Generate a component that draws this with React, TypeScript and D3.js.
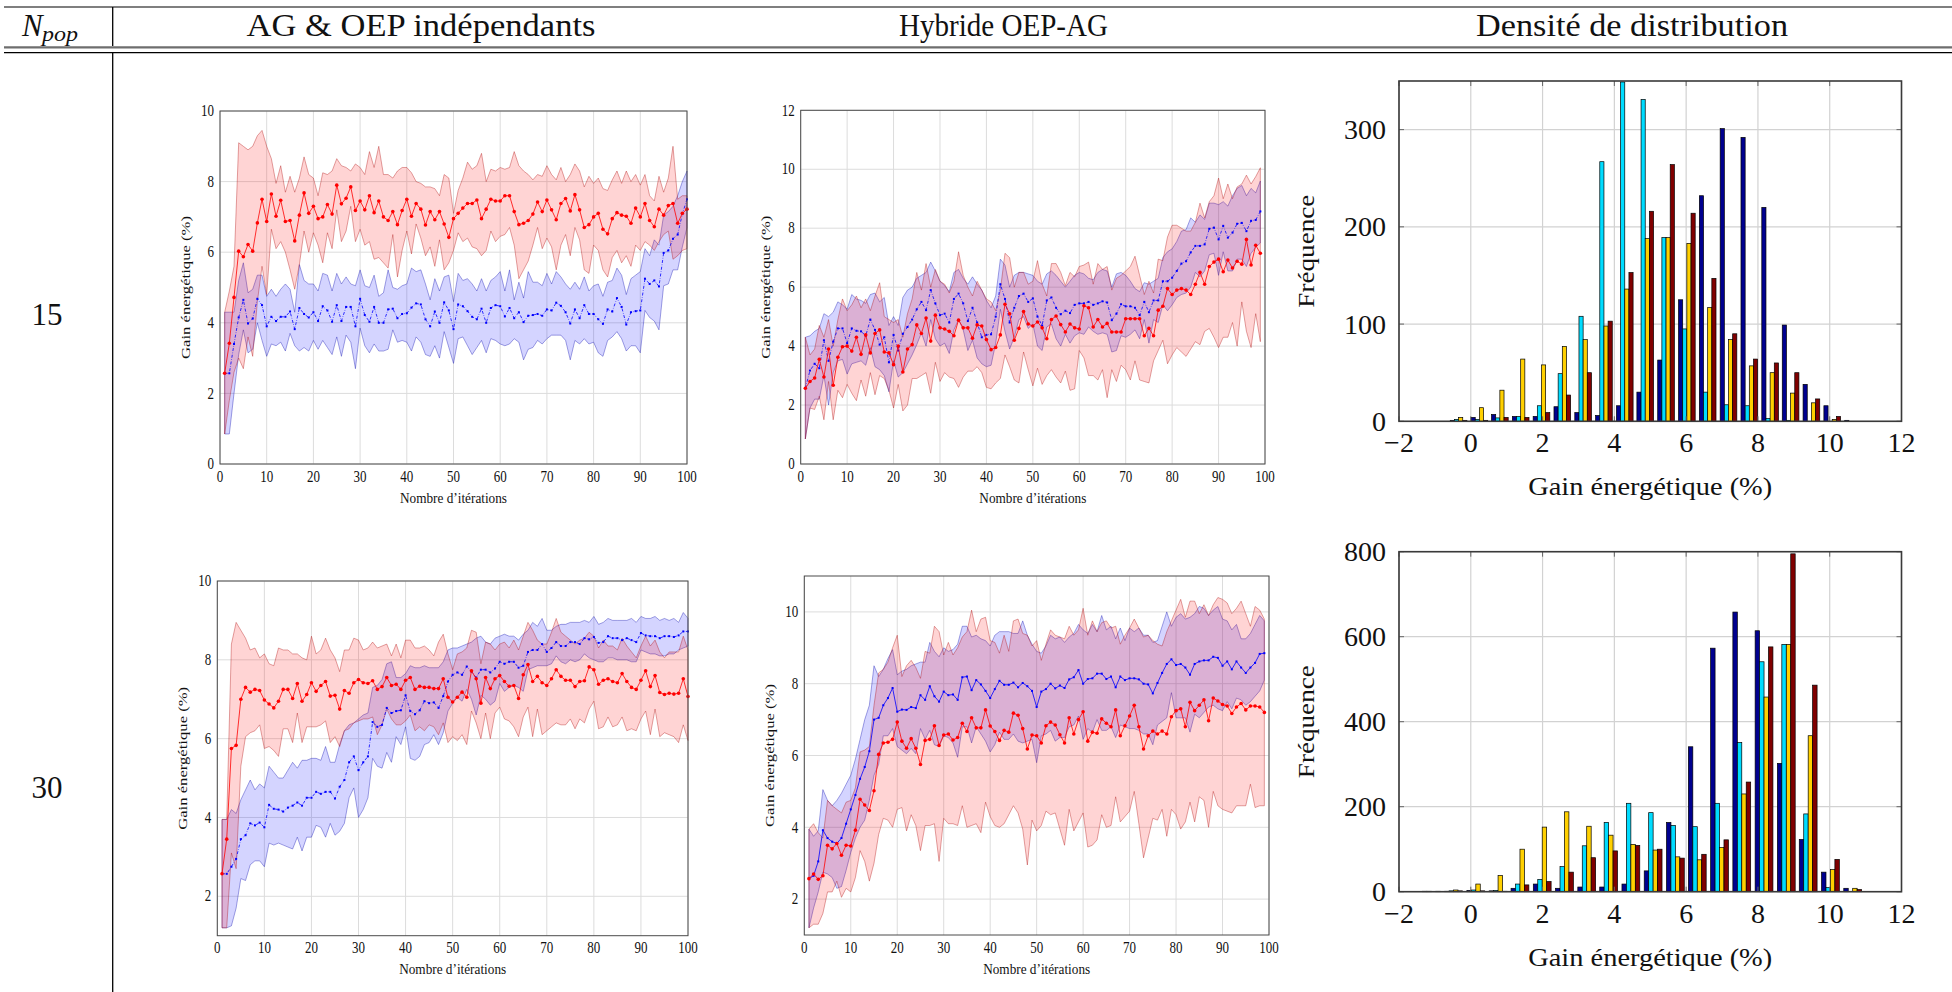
import React from 'react';
import * as d3 from 'd3';

const FONT = '"Liberation Serif", "Times New Roman", serif';

// ---------------- Table texts ----------------
const headerTitles = ['AG & OEP indépendants', 'Hybride OEP-AG', 'Densité de distribution'];
const populationSizes = ['15', '30'];

// ---------------- Top-left: AG & OEP indépendants, N=15 ----------------
const tlRedMean = [2.57,3.42,4.72,6.03,5.87,6.22,6.03,6.83,7.5,6.87,7.65,7.02,7.47,6.87,6.9,6.32,7.05,7.68,7.1,7.3,6.95,7.0,7.35,7.08,7.9,7.37,7.53,7.85,7.18,7.45,7.2,7.6,7.12,7.45,7.0,6.9,7.15,6.78,7.18,7.5,7.02,7.38,7.22,6.77,7.15,6.92,7.15,6.8,6.42,6.95,7.1,7.25,7.38,7.38,7.48,6.95,7.22,7.5,7.45,7.45,7.6,7.6,7.15,6.78,6.82,6.9,7.08,7.42,7.15,7.48,7.2,6.92,7.38,7.52,7.17,7.63,7.2,6.7,6.78,7.0,7.1,6.65,6.52,6.95,7.12,7.05,7.02,6.82,7.25,7.0,7.38,6.9,6.72,7.22,7.05,7.32,7.38,6.82,7.1,7.22];
const tlRedUp = [4.3,4.9,5.6,9.1,9.0,8.9,9.0,9.3,9.45,9.0,8.65,7.95,8.45,7.7,8.15,7.7,8.1,8.7,8.2,8.1,7.6,8.25,8.2,8.3,8.65,8.45,8.4,8.3,8.5,8.4,8.2,8.85,8.4,9.0,8.2,8.2,8.1,8.3,8.4,8.4,8.25,8.0,7.95,7.85,7.85,7.8,7.6,8.2,8.1,7.1,7.75,8.1,8.55,8.35,8.45,8.8,8.0,8.35,8.3,8.4,8.35,8.4,8.85,8.45,8.3,8.2,8.05,8.2,8.15,8.45,8.2,8.05,8.4,8.0,8.2,8.5,8.3,7.85,8.15,7.95,8.1,7.8,7.75,8.05,8.3,7.95,8.3,8.0,8.2,7.9,8.2,7.6,7.45,8.15,7.7,8.1,9.0,7.5,7.6,7.6];
const tlRedLo = [0.85,1.8,2.6,3.0,2.7,3.6,3.05,4.6,5.6,4.8,6.65,6.1,6.3,6.0,5.5,4.95,5.65,6.6,6.0,6.55,6.2,5.7,6.55,6.1,7.2,6.3,6.6,7.3,6.3,6.65,6.2,6.3,5.8,5.85,5.7,5.55,6.5,5.3,6.05,6.6,5.95,6.8,6.4,5.9,6.15,5.6,6.35,5.5,5.7,6.05,6.55,6.3,6.4,6.15,6.1,5.9,6.05,6.6,6.3,6.45,6.5,6.7,6.2,5.25,5.5,5.75,6.2,6.7,6.1,6.4,6.15,5.5,6.2,6.5,5.9,6.7,6.35,5.5,5.4,6.2,6.05,5.5,5.3,5.85,6.05,5.7,5.9,5.6,6.2,6.05,6.3,6.2,6.05,6.3,6.5,6.6,5.8,5.9,6.05,6.1];
const tlBlueMean = [2.57,2.57,3.4,4.15,4.65,3.98,4.12,4.68,4.5,3.9,4.17,4.05,4.17,4.17,4.32,3.82,4.42,4.25,4.15,4.3,4.05,4.47,4.35,4.03,4.5,4.05,4.45,4.45,3.9,4.68,4.22,4.03,4.45,4.0,4.0,4.38,4.4,4.13,4.25,4.27,4.43,4.55,4.52,4.1,3.9,4.32,4.0,4.58,4.35,3.82,4.52,4.47,4.33,4.17,4.1,4.4,4.0,4.42,4.5,4.47,4.18,4.42,4.13,4.3,4.02,4.2,4.22,4.25,4.2,4.38,4.35,4.57,4.48,4.3,3.98,4.38,4.13,4.5,4.25,4.25,4.1,3.97,4.38,4.32,4.7,4.45,3.95,4.3,4.33,4.35,5.25,5.1,5.2,5.03,5.98,6.05,6.38,6.5,7.08,7.5];
const tlBlueUp = [4.3,4.3,4.3,5.2,5.7,4.85,4.95,5.35,5.35,4.75,4.95,4.75,4.95,5.1,4.95,4.3,5.65,5.2,5.1,5.1,4.9,5.4,5.35,4.9,5.4,5.1,5.3,5.1,5.05,5.5,5.05,5.0,5.35,4.75,4.85,5.5,5.0,4.95,5.05,5.1,5.55,5.45,5.5,5.1,4.65,5.25,4.9,5.3,5.35,4.6,5.4,5.2,5.25,5.1,4.9,5.25,4.9,5.2,5.3,5.45,4.9,5.5,4.65,5.15,4.7,5.45,5.15,5.15,5.05,5.4,5.1,5.45,5.3,5.1,4.95,5.15,4.95,5.3,4.9,5.05,5.1,4.75,5.15,5.2,5.55,5.35,4.8,5.25,5.35,5.45,6.1,5.9,6.35,6.2,7.05,7.15,7.3,7.6,8.0,8.3];
const tlBlueLo = [0.85,0.85,2.0,3.1,3.8,3.15,3.25,4.0,3.5,3.05,3.4,3.35,3.45,3.2,3.7,3.35,3.2,3.3,3.2,3.5,3.25,3.5,3.3,3.1,3.6,3.05,3.65,3.45,2.7,3.85,3.35,3.15,3.4,3.2,3.2,3.25,3.8,3.45,3.5,3.45,3.2,3.6,3.45,3.1,3.05,3.35,3.0,3.75,3.3,2.85,3.55,3.6,3.35,3.1,3.3,3.5,3.15,3.55,3.5,3.4,3.35,3.4,3.55,3.45,2.95,3.25,3.3,3.5,3.4,3.55,3.65,3.65,3.65,3.5,2.95,3.5,3.4,3.55,3.4,3.45,3.15,3.05,3.5,3.6,3.75,3.55,3.2,3.35,3.35,3.15,4.35,4.15,4.05,3.8,5.05,5.1,5.5,5.5,6.15,6.7];

// ---------------- Top-middle: Hybride OEP-AG, N=15 ----------------
const tmRedMean = [2.57,2.8,2.92,3.55,2.95,3.9,2.67,3.62,3.98,4.0,3.83,4.3,3.72,4.38,3.77,4.43,4.55,3.8,3.77,3.37,4.0,3.12,3.9,4.05,4.72,4.43,4.95,4.17,5.05,4.62,4.58,4.5,4.35,4.88,4.62,4.62,4.27,4.72,4.68,4.22,3.88,3.95,4.38,5.42,5.1,4.2,4.6,5.17,4.75,4.68,4.82,4.62,4.25,4.9,5.02,4.73,4.48,4.75,4.62,4.58,5.37,5.3,4.65,4.9,4.65,4.77,4.48,4.48,4.48,4.93,4.93,4.93,4.93,4.35,4.6,4.35,5.22,5.35,5.95,5.75,5.9,5.95,5.9,5.75,6.1,6.5,6.1,6.7,6.85,6.95,6.52,6.92,6.65,6.88,6.78,7.62,6.75,7.42,7.15];
const tmRedUp = [4.3,3.7,3.9,4.7,4.3,4.9,4.0,4.9,5.6,5.2,5.4,5.7,5.3,5.6,5.2,5.7,6.15,5.0,4.9,4.8,4.9,4.3,5.1,5.6,6.5,5.9,6.8,6.0,6.6,6.2,6.1,5.8,6.2,7.2,6.4,6.0,5.7,6.2,5.9,5.6,5.5,5.2,5.9,7.15,7.0,6.0,6.5,6.5,6.1,6.2,6.9,6.1,5.7,6.8,6.8,6.5,6.05,6.5,6.35,6.7,6.75,6.85,6.1,6.8,6.6,6.7,5.9,6.3,6.4,6.55,6.7,7.05,6.4,5.75,6.2,5.8,6.95,6.9,7.7,8.1,8.1,8.0,7.9,7.9,8.2,8.85,8.35,8.9,9.1,9.7,9.0,9.5,9.0,9.4,9.5,9.8,9.5,9.75,10.05];
const tmRedLo = [0.85,1.9,1.85,2.3,1.5,2.8,1.5,2.5,2.25,2.7,2.4,2.15,2.85,2.3,3.1,2.35,3.0,2.9,2.5,1.9,2.7,1.8,2.0,2.9,2.9,3.0,3.1,2.4,3.45,2.8,3.1,2.95,2.9,2.6,2.95,3.15,3.15,3.3,3.1,2.6,2.55,2.75,2.9,3.7,3.3,2.85,2.75,3.8,3.2,2.65,3.25,2.7,3.0,3.2,2.95,2.75,3.15,2.5,2.55,3.85,3.6,3.0,3.0,2.85,3.2,2.25,3.2,2.8,3.35,3.2,2.85,3.5,2.85,2.8,2.75,3.5,3.85,4.2,3.4,3.7,3.95,3.8,3.65,3.9,4.15,4.05,4.5,4.6,4.3,3.95,4.3,4.3,4.8,4.0,5.5,4.5,3.95,5.1,4.15];
const tmBlueMean = [2.57,3.17,3.4,3.25,4.2,3.5,4.15,4.6,4.6,4.1,4.6,4.52,4.5,4.35,4.9,4.55,4.05,4.3,3.45,4.38,3.85,4.42,4.65,4.9,5.25,5.5,5.22,5.9,5.45,5.05,5.1,4.8,5.6,5.78,5.45,4.85,5.3,4.8,4.3,4.38,4.4,5.0,6.1,5.6,4.8,5.3,5.7,5.78,5.5,5.62,5.0,4.7,5.55,5.65,5.3,5.08,5.2,5.12,5.4,5.45,5.45,5.5,5.4,5.45,5.52,5.48,4.88,5.1,5.42,5.35,5.35,5.3,5.05,5.5,5.15,5.55,5.55,6.2,6.2,6.32,6.55,6.8,6.88,7.18,7.4,7.4,7.45,7.98,8.02,7.62,8.08,7.68,7.85,8.15,8.18,7.9,8.25,8.28,8.57];
const tmBlueUp = [4.3,4.35,4.5,4.6,5.1,5.0,5.15,5.5,5.4,5.25,5.75,5.6,5.55,5.45,5.75,5.8,5.5,5.65,4.7,5.0,4.7,5.65,5.9,6.0,6.3,6.4,6.5,6.85,6.55,6.2,6.05,5.85,6.5,6.6,6.3,6.1,6.35,6.1,5.9,5.55,5.3,5.7,6.95,6.75,6.0,6.4,6.5,6.5,6.45,6.4,6.2,6.1,6.45,6.55,6.4,6.2,6.0,6.2,6.4,6.5,6.45,6.3,6.25,6.5,6.6,6.55,6.0,6.45,6.5,6.4,6.2,5.95,5.85,6.15,6.1,6.2,6.3,7.0,7.2,7.3,7.55,7.9,7.95,8.35,8.2,8.45,8.3,8.85,8.85,8.8,8.9,8.75,9.1,9.35,9.45,9.1,9.35,9.2,9.6];
const tmBlueLo = [0.85,1.9,2.2,2.2,3.0,2.0,3.1,3.5,3.55,3.05,3.4,3.45,3.5,3.35,3.95,3.3,3.2,3.0,2.45,3.5,2.95,3.1,3.4,3.7,4.05,4.45,4.0,4.9,4.25,4.0,4.1,3.75,4.55,4.9,4.55,3.85,4.2,3.6,3.4,3.3,3.35,4.1,5.25,4.5,3.9,4.3,4.9,5.0,4.6,4.75,4.0,3.85,4.65,4.75,4.25,4.0,4.4,4.1,4.35,4.45,4.4,4.65,4.5,4.4,4.45,4.4,3.8,3.85,4.35,4.3,4.4,4.55,4.25,4.9,4.1,4.9,4.8,5.4,5.2,5.4,5.65,5.75,5.8,6.0,6.5,6.35,6.55,7.1,7.15,6.4,7.2,6.55,6.55,6.95,6.95,6.7,7.15,7.35,7.5];

// ---------------- Bottom-left: AG & OEP indépendants, N=30 ----------------
const blRedMean = [2.57,3.45,5.75,5.83,7.0,7.3,7.18,7.25,7.22,6.98,6.88,6.78,6.95,7.25,7.25,7.02,7.4,6.95,7.12,7.42,7.2,7.35,7.45,7.08,7.1,6.75,7.22,7.15,7.42,7.5,7.42,7.4,7.47,7.25,7.32,7.55,7.35,7.38,7.25,7.48,7.55,7.25,7.33,7.3,7.3,7.27,7.27,7.52,7.05,6.93,7.05,7.18,7.05,7.72,7.52,6.9,7.55,7.27,7.52,7.6,7.45,7.33,7.35,7.02,7.62,7.88,7.45,7.58,7.42,7.35,7.52,7.75,7.58,7.48,7.48,7.32,7.45,7.47,7.82,7.75,7.38,7.48,7.52,7.45,7.42,7.65,7.45,7.3,7.25,7.48,7.72,7.32,7.6,7.17,7.12,7.15,7.13,7.15,7.52,7.07];
const blRedUp = [3.95,3.95,8.4,8.95,8.75,8.55,8.25,8.3,8.05,8.15,7.9,7.85,8.3,8.25,8.25,8.15,8.15,8.05,8.0,8.6,8.15,8.25,8.55,8.25,8.05,7.7,8.25,8.25,8.55,8.5,8.25,8.3,8.45,8.3,8.35,8.4,8.1,8.4,8.05,8.5,8.5,8.3,8.3,8.35,8.25,8.1,8.45,8.65,8.15,7.75,8.15,8.2,8.3,8.75,8.7,7.9,8.45,8.4,8.25,8.4,8.45,8.3,8.5,8.25,8.6,8.95,8.75,8.5,8.4,8.4,8.7,9.05,8.7,8.6,8.5,8.4,8.5,8.55,8.7,8.6,8.3,8.5,8.35,8.35,8.25,8.55,8.35,8.2,8.05,8.35,8.6,8.35,8.5,8.2,8.05,8.2,8.2,8.2,8.6,8.25];
const blRedLo = [1.2,1.2,3.1,2.7,5.3,6.05,6.15,6.2,6.35,5.75,5.8,5.7,5.55,6.25,6.25,5.9,6.65,5.9,6.3,6.3,6.3,6.35,6.45,5.9,6.05,5.8,6.2,6.25,6.4,6.45,6.5,6.5,6.55,6.1,6.35,6.75,6.5,6.35,6.35,6.45,6.6,6.2,6.3,6.2,6.35,6.3,6.1,6.4,5.9,6.05,5.95,6.1,5.85,6.7,6.4,6.0,6.65,6.0,6.65,6.8,6.5,6.45,6.3,6.05,6.55,6.8,6.05,6.75,6.1,6.2,6.3,6.4,6.35,6.35,6.5,6.25,6.5,6.4,6.75,6.95,6.25,6.3,6.55,6.3,6.35,6.55,6.2,6.25,6.2,6.5,6.7,6.1,6.75,6.05,6.15,6.1,6.05,5.9,6.35,5.95];
const blBlueMean = [2.57,2.57,2.75,2.95,3.45,3.55,3.85,3.8,3.87,3.75,4.32,4.22,4.2,4.15,4.25,4.3,4.38,4.3,4.5,4.5,4.65,4.6,4.65,4.65,4.48,4.78,4.95,5.4,5.55,5.2,5.4,5.55,6.42,6.3,6.35,6.78,6.65,6.7,6.72,7.1,6.7,6.62,6.72,6.95,6.9,6.92,6.78,7.08,7.45,7.62,7.68,7.62,7.83,7.7,7.55,7.75,7.75,7.68,7.78,7.95,7.9,7.95,7.95,7.8,7.85,8.2,8.25,8.25,8.4,8.2,8.3,8.45,8.35,8.35,8.45,8.45,8.4,8.55,8.52,8.58,8.43,8.45,8.6,8.55,8.55,8.5,8.55,8.5,8.45,8.68,8.62,8.6,8.6,8.55,8.6,8.6,8.58,8.62,8.72,8.72];
const blBlueUp = [3.95,3.95,4.2,4.1,4.45,4.7,4.95,4.7,4.85,4.75,5.3,5.15,5.0,5.0,5.2,5.4,5.25,5.45,5.45,5.5,5.5,5.45,5.8,5.4,5.4,5.85,6.2,6.35,6.4,6.5,6.6,6.65,7.3,7.35,7.5,7.9,7.95,7.55,7.55,7.65,7.85,7.8,7.8,7.85,7.8,7.8,7.8,7.95,8.25,8.3,8.3,8.35,8.4,8.45,8.55,8.6,8.45,8.4,8.55,8.6,8.65,8.6,8.6,8.5,8.65,8.75,8.95,8.85,9.05,8.75,8.75,8.85,8.9,8.9,8.95,8.95,8.95,9.0,8.95,9.1,8.9,8.95,9.05,9.0,9.0,9.0,9.0,9.05,8.95,9.1,9.05,9.05,9.1,9.0,9.05,9.0,9.05,8.95,9.2,9.05];
const blBlueLo = [1.2,1.2,1.25,1.7,2.45,2.4,2.8,2.9,2.9,2.75,3.35,3.3,3.35,3.3,3.25,3.2,3.5,3.15,3.5,3.5,3.8,3.75,3.5,3.85,3.55,3.65,3.85,4.5,4.75,4.0,4.2,4.5,5.5,5.3,5.25,5.65,5.4,6.05,5.85,6.3,5.5,5.45,5.55,5.85,5.9,6.1,5.85,6.15,6.7,6.9,7.05,6.95,7.25,7.0,6.6,7.1,7.0,6.85,6.95,7.4,7.2,7.3,7.35,7.3,7.2,7.75,7.8,7.85,7.85,7.85,7.9,8.1,7.95,7.9,8.0,7.95,8.0,8.15,8.05,8.0,7.95,7.95,8.05,8.05,8.0,8.0,8.0,7.95,7.95,8.25,8.2,8.15,8.15,8.1,8.1,8.15,8.15,8.25,8.3,8.35];

// ---------------- Bottom-middle: Hybride OEP-AG, N=30 ----------------
const bmRedMean = [2.57,2.7,2.55,2.65,3.5,3.4,3.55,3.22,3.5,3.48,3.92,4.78,4.62,4.47,5.02,6.03,6.35,6.37,6.45,6.93,6.4,6.2,6.47,6.2,5.75,6.42,6.45,6.83,6.28,6.57,6.6,6.43,6.5,6.9,6.67,7.05,6.77,6.77,7.27,6.82,6.67,6.42,6.7,6.65,7.18,7.12,6.75,6.18,6.57,6.55,6.35,6.83,6.93,6.85,6.58,6.35,7.05,6.6,7.0,7.22,6.4,6.65,6.62,7.02,6.9,6.8,7.27,6.55,6.83,7.1,7.4,6.8,6.18,6.55,6.68,6.6,6.68,6.6,7.08,7.25,7.3,6.8,7.48,7.25,7.4,7.55,6.97,7.6,7.52,7.42,7.38,7.17,7.35,7.45,7.27,7.38,7.38,7.35,7.2];
const bmRedUp = [3.95,4.1,3.85,3.7,4.75,4.6,4.5,4.4,4.7,4.75,5.1,6.1,6.15,6.25,7.4,8.3,8.4,8.6,9.0,9.35,8.2,8.5,8.65,8.45,8.15,8.9,8.85,9.6,9.45,8.8,9.15,8.8,9.0,9.3,9.45,10.05,9.45,9.8,9.85,9.2,9.15,8.85,9.35,8.9,9.75,9.8,9.4,9.35,9.05,9.2,8.65,9.1,9.5,9.35,9.3,9.25,9.6,9.35,9.5,10.1,9.35,9.75,9.45,9.7,9.75,9.55,9.6,9.1,9.35,9.55,9.8,9.55,9.3,9.35,9.2,9.1,9.05,9.45,9.75,10.05,10.35,9.85,10.3,10.3,9.95,10.2,9.9,10.2,10.4,10.35,10.25,9.95,10.1,10.3,9.95,9.6,10.15,10.05,9.8];
const bmRedLo = [1.2,1.3,1.3,1.6,2.2,2.2,2.5,2.05,2.3,2.2,2.6,3.35,3.05,2.5,3.0,3.8,4.25,4.2,4.0,4.5,4.55,3.9,4.35,4.05,3.35,4.05,4.05,4.1,3.05,4.25,4.1,4.1,4.05,4.6,4.0,4.05,4.1,3.85,4.7,4.3,4.05,4.0,4.1,4.35,4.6,4.4,3.95,2.95,4.2,3.9,4.05,4.45,4.35,4.4,3.95,3.5,4.5,3.9,4.15,4.4,3.45,3.5,3.65,4.35,4.0,4.05,4.85,4.15,4.3,4.45,5.0,4.1,3.15,3.7,4.25,4.2,4.5,3.75,4.5,4.35,3.95,4.15,4.7,4.15,4.85,4.75,4.0,5.0,4.6,4.5,4.45,4.4,4.6,4.6,4.6,5.2,4.55,4.6,4.6];
const bmBlueMean = [2.57,2.65,3.05,3.92,3.7,3.6,3.55,3.7,4.1,4.5,4.9,5.35,5.68,6.12,7.0,7.05,7.4,7.6,7.88,7.22,7.28,7.27,7.35,7.32,7.68,7.55,7.93,7.65,7.5,7.78,7.68,7.7,7.55,8.18,8.2,7.82,8.1,7.98,7.8,7.6,7.85,8.08,7.97,7.97,8.03,7.9,8.02,7.93,7.8,7.35,7.78,7.85,8.0,7.87,7.95,7.88,8.12,8.18,8.38,8.0,8.13,8.15,8.28,8.28,8.13,8.2,7.9,8.2,8.1,8.15,8.15,8.12,8.0,7.98,7.73,8.02,8.3,8.55,8.68,8.52,8.55,8.45,8.25,8.55,8.62,8.65,8.65,8.75,8.72,8.5,8.62,8.4,8.62,8.45,8.3,8.45,8.58,8.83,8.85];
const bmBlueUp = [3.95,3.75,3.9,5.05,4.75,4.6,4.75,4.95,5.2,5.45,5.9,6.45,7.0,7.4,8.5,8.2,8.4,8.7,8.95,8.25,8.35,8.4,8.5,8.55,8.6,8.6,9.15,8.9,8.75,9.0,8.9,8.95,9.1,9.6,9.6,9.3,9.35,9.25,9.2,9.05,9.35,9.45,9.45,9.45,9.4,9.4,9.75,9.35,9.1,8.9,8.85,9.05,9.35,9.25,9.3,9.15,9.3,9.4,9.65,9.5,9.4,9.65,9.45,9.9,9.5,9.6,9.25,9.55,9.2,9.55,9.45,9.55,9.35,9.35,9.15,9.2,9.6,10.0,9.6,9.85,9.95,9.8,9.85,9.95,10.15,10.1,9.9,10.05,10.15,9.8,9.75,9.5,9.65,9.25,9.25,9.4,9.65,9.9,9.75];
const bmBlueLo = [1.2,1.75,2.2,2.75,2.7,2.6,2.3,2.35,2.8,3.3,3.7,4.0,4.2,4.75,5.45,5.75,6.55,6.55,6.75,6.25,6.15,6.05,6.2,6.05,6.75,6.45,6.7,6.3,6.25,6.55,6.5,6.35,5.95,6.8,6.8,6.35,6.8,6.6,6.4,6.1,6.3,6.65,6.45,6.45,6.6,6.4,6.35,6.4,6.45,5.8,6.55,6.6,6.7,6.4,6.5,6.5,6.8,6.85,7.1,6.45,6.75,6.65,7.0,6.7,6.7,6.8,6.5,6.85,6.8,6.75,6.75,6.7,6.6,6.6,6.3,6.85,6.95,7.05,7.75,7.05,7.05,7.05,6.65,7.15,7.05,7.2,7.35,7.4,7.3,7.25,7.5,7.3,7.6,7.55,7.4,7.5,7.65,7.8,8.1];

// ---------------- Histograms (Densité de distribution) ----------------
const histTopBins = [-0.34,0.24,0.81,1.39,1.97,2.55,3.13,3.71,4.29,4.86,5.44,6.02,6.6,7.18,7.76,8.34,8.91,9.49,10.07,10.65];
const histTopNavy = [1,4,7,5,5,15,9,6,16,30,63,125,232,301,292,220,99,38,16,1];
const histTopCyan = [2,2,3.5,5,16,49,108,267,349,331,189,95,30,17,16,3,1,0,0,0];
const histTopGold = [4,14,32,64,58,77,84,98,136,188,189,183,117,84,57,50,29,19,2,0];
const histTopDarkRed = [1,1,4,4,9,27,50,103,153,216,264,214,147,90,64,60,50,23,5,0];

const histBotBins = [-1.1,-0.48,0.14,0.76,1.37,1.99,2.61,3.23,3.84,4.46,5.08,5.7,6.31,6.93,7.55,8.17,8.79,9.4,10.02,10.64];
const histBotNavy = [1,1,3,2,8,18,8,11,11,18,49,163,341,573,658,614,302,123,46,8];
const histBotCyan = [1,2,4,3,18,29,59,108,163,208,186,156,153,208,351,541,582,183,10,0];
const histBotGold = [0,4,18,38,100,152,188,154,133,111,98,82,75,104,230,458,582,367,52,8];
const histBotDarkRed = [1,2,2,1,16,24,46,80,96,109,100,79,88,122,258,576,795,486,76,5];

const histColors = ['#00008f', '#00dcff', '#ffd000', '#800000'];
const lineXTicks = [0, 10, 20, 30, 40, 50, 60, 70, 80, 90, 100];
const histXTicks = [-2, 0, 2, 4, 6, 8, 10, 12];

type Band = { mean: number[]; up: number[]; lo: number[] };
type LinePanelCfg = {
  key: string; left: number; right: number; top: number; bottom: number;
  yDomain: [number, number]; yTicks: number[]; red: Band; blue: Band; blueDash: boolean;
};

const linePanels: LinePanelCfg[] = [
  { key: 'tl', left: 220, right: 687, top: 111, bottom: 464, yDomain: [0, 10], yTicks: [0, 2, 4, 6, 8, 10],
    red: { mean: tlRedMean, up: tlRedUp, lo: tlRedLo }, blue: { mean: tlBlueMean, up: tlBlueUp, lo: tlBlueLo }, blueDash: true },
  { key: 'tm', left: 800.7, right: 1265, top: 110.3, bottom: 464, yDomain: [0, 12], yTicks: [0, 2, 4, 6, 8, 10, 12],
    red: { mean: tmRedMean, up: tmRedUp, lo: tmRedLo }, blue: { mean: tmBlueMean, up: tmBlueUp, lo: tmBlueLo }, blueDash: true },
  { key: 'bl', left: 217.3, right: 688, top: 581, bottom: 935.7, yDomain: [1, 10], yTicks: [2, 4, 6, 8, 10],
    red: { mean: blRedMean, up: blRedUp, lo: blRedLo }, blue: { mean: blBlueMean, up: blBlueUp, lo: blBlueLo }, blueDash: true },
  { key: 'bm', left: 804.3, right: 1269, top: 576, bottom: 935, yDomain: [1, 11], yTicks: [2, 4, 6, 8, 10],
    red: { mean: bmRedMean, up: bmRedUp, lo: bmRedLo }, blue: { mean: bmBlueMean, up: bmBlueUp, lo: bmBlueLo }, blueDash: false },
];

type HistCfg = { key: string; left: number; right: number; top: number; bottom: number; yMax: number; yTicks: number[]; bins: number[]; series: number[][] };
const histPanels: HistCfg[] = [
  { key: 'ht', left: 1399, right: 1901.5, top: 81, bottom: 421.3, yMax: 350, yTicks: [0, 100, 200, 300],
    bins: histTopBins, series: [histTopNavy, histTopCyan, histTopGold, histTopDarkRed] },
  { key: 'hb', left: 1399, right: 1901.5, top: 551.7, bottom: 891.7, yMax: 800, yTicks: [0, 200, 400, 600, 800],
    bins: histBotBins, series: [histBotNavy, histBotCyan, histBotGold, histBotDarkRed] },
];

function Txt(props: { x: number; y: number; size: number; sy?: number; anchor?: string; len?: number; rot?: boolean; italic?: boolean; children: React.ReactNode }) {
  const { x, y, size, sy = 1, anchor = 'middle', len, rot, italic, children } = props;
  const transform = rot ? `translate(${x},${y}) rotate(-90)` : `translate(${x},${y}) scale(1,${sy})`;
  return (
    <text transform={transform} fontSize={size} textAnchor={anchor} fill="#111" fontStyle={italic ? 'italic' : 'normal'}
      textLength={len} lengthAdjust={len ? 'spacingAndGlyphs' : undefined}>
      {children}
    </text>
  );
}

function LinePanel({ p }: { p: LinePanelCfg }) {
  const x = d3.scaleLinear().domain([0, 100]).range([p.left, p.right]);
  const y = d3.scaleLinear().domain(p.yDomain).range([p.bottom, p.top]);
  const area = (b: Band) => d3.area<number>().x((_, i) => x(i + 1)).y0((_, i) => y(b.lo[i])).y1(d => y(d))(b.up) || '';
  const line = d3.line<number>().x((_, i) => x(i + 1)).y(d => y(d));
  const sy = 1.25;
  return (
    <g>
      {lineXTicks.map(t => <line key={'gx' + t} x1={x(t)} x2={x(t)} y1={p.top} y2={p.bottom} stroke="#dcdcdc" strokeWidth={1} />)}
      {p.yTicks.map(t => <line key={'gy' + t} x1={p.left} x2={p.right} y1={y(t)} y2={y(t)} stroke="#dcdcdc" strokeWidth={1} />)}
      <path d={area(p.blue)} fill="rgba(0,0,255,0.17)" stroke="rgba(0,0,170,0.45)" strokeWidth={0.8} />
      <path d={area(p.red)} fill="rgba(255,0,0,0.17)" stroke="rgba(170,0,0,0.45)" strokeWidth={0.8} />
      <path d={line(p.blue.mean) || ''} fill="none" stroke="#0000ff" strokeWidth={0.8}
        strokeDasharray={p.blueDash ? '3,1.6,0.6,1.6' : undefined} />
      {p.blue.mean.map((v, i) => <rect key={'bm' + i} x={x(i + 1) - 1} y={y(v) - 1} width={2} height={2} fill="#0000ff" />)}
      <path d={line(p.red.mean) || ''} fill="none" stroke="#ff0000" strokeWidth={0.8} />
      {p.red.mean.map((v, i) => <circle key={'rm' + i} cx={x(i + 1)} cy={y(v)} r={1.8} fill="#ff0000" />)}
      <rect x={p.left} y={p.top} width={p.right - p.left} height={p.bottom - p.top} fill="none" stroke="#4a4a4a" strokeWidth={1} />
      {lineXTicks.map(t => <Txt key={'lx' + t} x={x(t)} y={p.bottom + 17.5} size={13} sy={sy}>{String(t)}</Txt>)}
      {p.yTicks.map(t => <Txt key={'ly' + t} x={p.left - 6} y={y(t) + 5.2} size={13} sy={sy} anchor="end">{String(t)}</Txt>)}
      <Txt x={(p.left + p.right) / 2} y={p.bottom + 38.5} size={12.2} sy={sy} len={107}>Nombre d’itérations</Txt>
      <Txt x={p.left - 30.5} y={(p.top + p.bottom) / 2} size={12.2} rot len={143}>Gain énergétique (%)</Txt>
    </g>
  );
}

function HistPanel({ h }: { h: HistCfg }) {
  const x = d3.scaleLinear().domain([-2, 12]).range([h.left, h.right]);
  const y = d3.scaleLinear().domain([0, h.yMax]).range([h.bottom, h.top]);
  const step = x(h.bins[1]) - x(h.bins[0]);
  const bw = (step * 0.8) / 4;
  const fmt = (t: number) => String(t).replace('-', '−');
  return (
    <g>
      {histXTicks.map(t => <line key={'gx' + t} x1={x(t)} x2={x(t)} y1={h.top} y2={h.bottom} stroke="#d2d2d2" strokeWidth={1.2} />)}
      {h.yTicks.map(t => <line key={'gy' + t} x1={h.left} x2={h.right} y1={y(t)} y2={y(t)} stroke="#d2d2d2" strokeWidth={1.2} />)}
      {h.series.map((s, k) => s.map((v, i) => v > 0 ? (
        <rect key={`b${k}-${i}`} x={x(h.bins[i]) + (k - 2) * bw} y={y(v)} width={bw} height={y(0) - y(v)}
          fill={histColors[k]} stroke="#000" strokeWidth={0.7} />
      ) : null))}
      {histXTicks.map(t => (
        <g key={'tx' + t}>
          <line x1={x(t)} x2={x(t)} y1={h.bottom} y2={h.bottom - 5} stroke="#666" />
          <line x1={x(t)} x2={x(t)} y1={h.top} y2={h.top + 5} stroke="#666" />
        </g>
      ))}
      {h.yTicks.map(t => (
        <g key={'ty' + t}>
          <line x1={h.left} x2={h.left + 5} y1={y(t)} y2={y(t)} stroke="#666" />
          <line x1={h.right} x2={h.right - 5} y1={y(t)} y2={y(t)} stroke="#666" />
        </g>
      ))}
      <rect x={h.left} y={h.top} width={h.right - h.left} height={h.bottom - h.top} fill="none" stroke="#3a3a3a" strokeWidth={1.6} />
      {histXTicks.map(t => <Txt key={'lx' + t} x={x(t)} y={h.bottom + 31} size={28}>{fmt(t)}</Txt>)}
      {h.yTicks.map(t => <Txt key={'ly' + t} x={h.left - 13} y={y(t) + 9.5} size={28} anchor="end">{String(t)}</Txt>)}
      <Txt x={(h.left + h.right) / 2} y={h.bottom + 74} size={26} len={244}>Gain énergétique (%)</Txt>
      <Txt x={1314} y={(h.top + h.bottom) / 2} size={24} rot len={113}>Fréquence</Txt>
    </g>
  );
}

function Table() {
  return (
    <g>
      <line x1={4} x2={1952} y1={7} y2={7} stroke="#000" strokeWidth={1.2} />
      <line x1={4} x2={1952} y1={47.3} y2={47.3} stroke="#6e6e6e" strokeWidth={2.2} />
      <line x1={4} x2={1952} y1={52.6} y2={52.6} stroke="#000" strokeWidth={1.2} />
      <line x1={112.7} x2={112.7} y1={7} y2={46} stroke="#000" strokeWidth={1.3} />
      <line x1={112.7} x2={112.7} y1={53} y2={992} stroke="#000" strokeWidth={1.3} />
      <Txt x={22} y={35.5} size={31} anchor="start" italic>N</Txt>
      <Txt x={42} y={40.5} size={22} anchor="start" italic len={36}>pop</Txt>
      <Txt x={421} y={36} size={31} len={349}>{headerTitles[0]}</Txt>
      <Txt x={1003.5} y={36} size={31} len={209}>{headerTitles[1]}</Txt>
      <Txt x={1632} y={36} size={31} len={312}>{headerTitles[2]}</Txt>
      <Txt x={47} y={324.5} size={31}>{populationSizes[0]}</Txt>
      <Txt x={47} y={798} size={31}>{populationSizes[1]}</Txt>
    </g>
  );
}

export default function App() {
  return (
    <svg width={1952} height={992} style={{ position: 'absolute', left: 0, top: 0, background: '#fff' }} fontFamily={FONT}>
      <rect width={1952} height={992} fill="#fff" />
      <Table />
      {linePanels.map(p => <LinePanel key={p.key} p={p} />)}
      {histPanels.map(h => <HistPanel key={h.key} h={h} />)}
    </svg>
  );
}
